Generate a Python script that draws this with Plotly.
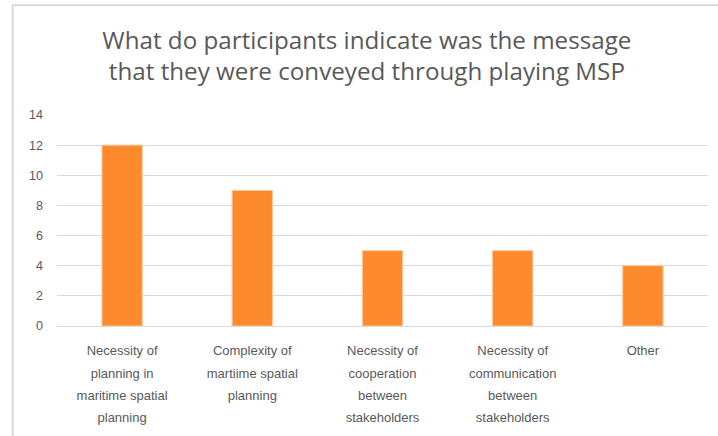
import plotly.graph_objects as go

categories = [
    "Necessity of<br>planning in<br>maritime spatial<br>planning",
    "Complexity of<br>martiime spatial<br>planning",
    "Necessity of<br>cooperation<br>between<br>stakeholders",
    "Necessity of<br>communication<br>between<br>stakeholders",
    "Other",
]
counts = [12, 9, 5, 5, 4]
y_ticks = [0, 2, 4, 6, 8, 10, 12, 14]

TEXT = "#595959"
GRID = "#D9D9D9"
BAR = "#FD8B2D"


def small_lines(label, size=13):
    # keep wide line spacing of the axis font while drawing smaller glyphs
    return "<br>".join(f"<span style='font-size:{size}px'>{ln}</span>" for ln in label.split("<br>"))


fig = go.Figure(
    go.Bar(
        x=categories,
        y=counts,
        marker=dict(color=BAR, line=dict(color="#FFC9A0", width=1)),
        width=0.31,
    )
)

fig.update_layout(
    width=718,
    height=436,
    margin=dict(l=57, r=10, t=115, b=110),
    paper_bgcolor="white",
    plot_bgcolor="white",
    showlegend=False,
    font=dict(family="Liberation Sans, Arial, sans-serif", color=TEXT),
    title=dict(
        text="What do participants indicate was the message<br>that they were conveyed through playing MSP",
        x=0.511,
        xref="container",
        xanchor="center",
        y=0.888,
        yanchor="top",
        font=dict(size=24.2, color=TEXT, family="Open Sans, sans-serif"),
    ),
    bargap=0.69,
    shapes=[
        dict(
            type="rect", xref="paper", yref="paper",
            x0=-0.068, x1=1.2, y0=-0.6, y1=1.52,
            line=dict(color=GRID, width=2), fillcolor="rgba(0,0,0,0)", layer="below",
        )
    ],
)

fig.update_xaxes(
    tickvals=categories,
    ticktext=[small_lines(c) for c in categories],
    tickfont=dict(size=17, color=TEXT),
    ticklabelstandoff=8,
    showline=True,
    linecolor=GRID,
    linewidth=1,
    showgrid=False,
    ticks="",
    tickangle=0,
)
fig.update_yaxes(
    range=[0, 14],
    tickvals=y_ticks,
    tickfont=dict(size=12.5, color=TEXT),
    showgrid=True,
    gridcolor=GRID,
    gridwidth=1,
    zeroline=False,
    showline=False,
    ticks="",
    ticklabelstandoff=13,
)

fig.write_html("out.html")
